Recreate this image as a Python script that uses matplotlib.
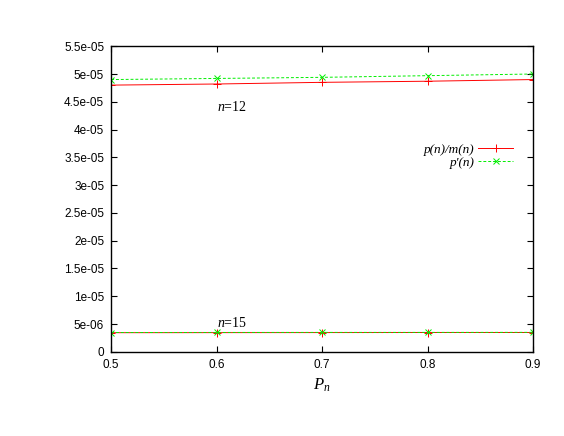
import matplotlib
matplotlib.use("Agg")
import matplotlib.pyplot as plt
from matplotlib.ticker import FixedLocator, FixedFormatter

# data
p_n = [0.5, 0.6, 0.7, 0.8, 0.9]
ratio_n12 = [4.80e-5, 4.82e-5, 4.85e-5, 4.87e-5, 4.90e-5]
pprime_n12 = [4.90e-5, 4.92e-5, 4.94e-5, 4.97e-5, 5.00e-5]
ratio_n15 = [3.45e-6, 3.46e-6, 3.47e-6, 3.48e-6, 3.48e-6]
pprime_n15 = [3.48e-6, 3.49e-6, 3.50e-6, 3.50e-6, 3.51e-6]

y_ticks = [0, 5e-6, 1e-5, 1.5e-5, 2e-5, 2.5e-5, 3e-5, 3.5e-5, 4e-5, 4.5e-5, 5e-5, 5.5e-5]
y_labels = ['0', '5e-06', '1e-05', '1.5e-05', '2e-05', '2.5e-05', '3e-05',
            '3.5e-05', '4e-05', '4.5e-05', '5e-05', '5.5e-05']
x_ticks = [0.5, 0.6, 0.7, 0.8, 0.9]
x_labels = ['0.5', '0.6', '0.7', '0.8', '0.9']

plt.rcParams['font.family'] = 'Liberation Sans'
plt.rcParams['mathtext.fontset'] = 'custom'
plt.rcParams['mathtext.it'] = 'Liberation Serif:italic'
plt.rcParams['mathtext.rm'] = 'Liberation Serif'

fig = plt.figure(figsize=(5.64, 4.36), dpi=100)
ax = fig.add_axes([0.197, 0.193, 0.748, 0.701])

red = '#ff0000'
green = '#00ee00'

ax.plot(p_n, ratio_n12, color=red, lw=0.7, marker='+', ms=6, mew=0.7,
        label='p(n)/m(n)')
ax.plot(p_n, pprime_n12, color=green, lw=0.7, ls=(0, (3, 2)), marker='x',
        ms=4, mew=0.7, label="p'(n)")
ax.plot(p_n, ratio_n15, color=red, lw=0.7, marker='+', ms=6, mew=0.7)
ax.plot(p_n, pprime_n15, color=green, lw=0.7, ls=(0, (3, 2)), marker='x',
        ms=4, mew=0.7)

ax.set_xlim(0.5, 0.9)
ax.set_ylim(0, 5.5e-5)
ax.xaxis.set_major_locator(FixedLocator(x_ticks))
ax.xaxis.set_major_formatter(FixedFormatter(x_labels))
ax.yaxis.set_major_locator(FixedLocator(y_ticks))
ax.yaxis.set_major_formatter(FixedFormatter(y_labels))
ax.tick_params(direction='in', length=4, width=0.8, labelsize=8.5,
               top=True, right=True, pad=5)
for s in ax.spines.values():
    s.set_linewidth(1.0)

ax.set_xlabel('$P_n$', fontsize=12, labelpad=4)

ax.text(0.6, 4.4e-5, '$n$=12', fontsize=10, family='Liberation Serif',
        va='center', ha='left')
ax.text(0.6, 5.2e-6, '$n$=15', fontsize=10, family='Liberation Serif',
        va='center', ha='left')

leg = ax.legend(loc='upper right', bbox_to_anchor=(0.974, 0.712),
                frameon=False, markerfirst=False, handlelength=2.6,
                labelspacing=0.05, handletextpad=0.3, borderpad=0.2,
                prop={'family': 'Liberation Serif', 'style': 'italic',
                      'size': 9.5})

fig.savefig('out.png', dpi=100)
